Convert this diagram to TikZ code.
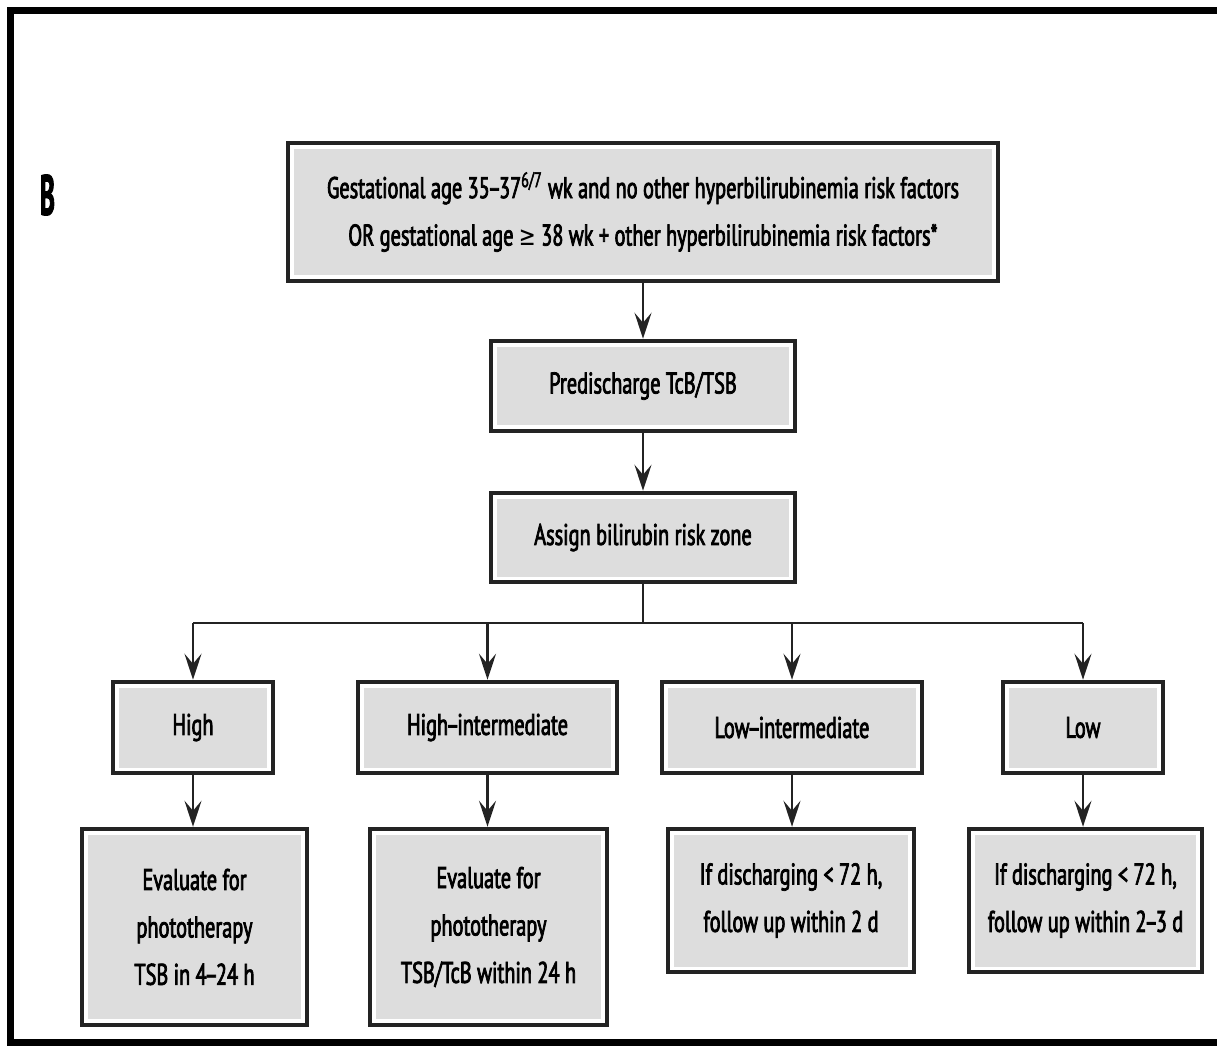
\documentclass[tikz,border=0pt]{standalone}
\usepackage{fontspec}
\setmainfont{PT Sans}[FakeStretch=0.68,FakeBold=2.5]
\newfontfamily\symfont{DejaVu Sans}[FakeStretch=0.75,Scale=0.9]
\usetikzlibrary{arrows.meta,calc}
\definecolor{boxfill}{RGB}{221,221,221}
\definecolor{boxline}{RGB}{35,35,35}
\newcommand{\rng}{\kern-0.07em--\kern-0.07em}

\begin{document}
\begin{tikzpicture}[x=0.02cm,y=-0.02cm,
  zone/.style={draw=boxline,line width=0.09cm,fill=white,inner sep=0pt,align=center,
    font=\fontsize{17}{27}\selectfont,
    path picture={\fill[boxfill] ([shift={(0.11cm,0.11cm)}]path picture bounding box.south west)
      rectangle ([shift={(-0.11cm,-0.11cm)}]path picture bounding box.north east);}},
  flow/.style={draw=boxline,line width=0.055cm},
  flowarr/.style={flow,-{Stealth[length=0.52cm,width=0.34cm,inset=0.2cm]}}]
  \useasboundingbox (0,0) rectangle (1217,1045);
  % frame, open on the right
  \draw[line width=0.14cm] (1217,10.5) -- (10.5,10.5) -- (10.5,1042.5) -- (1217,1042.5);
  \node[font=\bfseries\fontsize{32}{32}\selectfont] (panel) at (47.5,195) {\scalebox{0.65}[1]{B}};
  % main column
  \node[zone,minimum width=14.2cm,minimum height=2.76cm] (crit) at (643,212)
    {Gestational age 35\rng37\textsuperscript{6/7} wk and no other hyperbilirubinemia risk factors\\
     OR gestational age {\symfont ≥} 38 wk + other hyperbilirubinemia risk factors*};
  \node[zone,minimum width=6.08cm,minimum height=1.8cm] (pre) at (643,386) {Predischarge TcB/TSB};
  \node[zone,minimum width=6.08cm,minimum height=1.78cm] (asg) at (643,537.5) {Assign bilirubin risk zone};
  % risk zones
  \node[zone,minimum width=3.2cm,minimum height=1.82cm] (high) at (193,727.5) {High};
  \node[zone,minimum width=5.18cm,minimum height=1.82cm] (hint) at (487.5,727.5) {High\rng intermediate};
  \node[zone,minimum width=5.2cm,minimum height=1.82cm] (lint) at (792,727.5) {Low\rng intermediate};
  \node[zone,minimum width=3.2cm,minimum height=1.82cm] (low) at (1083,727.5) {Low};
  % actions
  \node[zone,minimum width=4.5cm,minimum height=3.92cm] (ev1) at (194.5,927)
    {Evaluate for\\phototherapy\\TSB in 4\rng24 h};
  \node[zone,minimum width=4.74cm,minimum height=3.92cm] (ev2) at (488.5,927)
    {Evaluate for\\phototherapy\\TSB/TcB within 24 h};
  \node[zone,minimum width=4.92cm,minimum height=2.86cm] (fu1) at (791,900.5)
    {If discharging < 72 h,\\follow up within 2 d};
  \node[zone,minimum width=4.66cm,minimum height=2.86cm] (fu2) at (1085.5,900.5)
    {If discharging < 72 h,\\follow up within 2\rng3 d};
  % connectors
  \coordinate (fork) at (643,623);
  \draw[flowarr] (crit) -- (pre);
  \draw[flowarr] (pre) -- (asg);
  \draw[flow] (asg) -- (fork);
  \draw[flow] (high |- fork) -- (low |- fork);
  \foreach \z in {high,hint,lint,low} \draw[flowarr] (\z |- fork) -- (\z);
  \draw[flowarr] (high) -- (high |- ev1.north);
  \draw[flowarr] (hint) -- (hint |- ev2.north);
  \draw[flowarr] (lint) -- (lint |- fu1.north);
  \draw[flowarr] (low) -- (low |- fu2.north);
\end{tikzpicture}
\end{document}
